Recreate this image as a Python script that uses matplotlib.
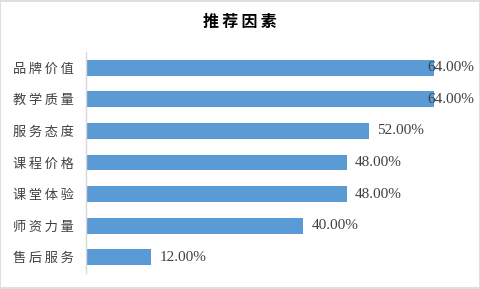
import matplotlib
matplotlib.use("Agg")
import matplotlib.pyplot as plt
from matplotlib.patches import Rectangle

categories = ['品牌价值', '教学质量', '服务态度', '课程价格', '课堂体验', '师资力量', '售后服务']
values = [64, 64, 52, 48, 48, 40, 12]
title = '推荐因素'

THIN = '\u2009'
def spaced(s):
    return THIN.join(s)

W, H = 481, 289
fig = plt.figure(figsize=(W / 100, H / 100), dpi=100)
ax = fig.add_axes([86 / W, 16 / H, (474 - 86) / W, (273 - 52) / H])

ypos = list(range(len(categories)))
ax.barh(ypos, values, height=0.5, color='#5B9BD5')
ax.set_ylim(len(categories) - 0.5, -0.5)
ax.set_xlim(0, 71.4)
ax.set_yticks(ypos)
ax.set_yticklabels([spaced(c) for c in categories],
                   fontfamily=['Noto Sans CJK SC', 'DejaVu Sans'], fontsize=9.5, color='#404040')
ax.tick_params(axis='y', length=0, pad=8.6)
ax.set_xticks([])
for s in ['top', 'right', 'bottom']:
    ax.spines[s].set_visible(False)
ax.spines['left'].set_color('#D9D9D9')
ax.spines['left'].set_linewidth(1)

texts = []
for yi, v in zip(ypos, values):
    t = ax.annotate(f'{v:.2f}%', xy=(v, yi), xytext=(5.8, 0), textcoords='offset points',
                    ha='left', va='center', fontsize=11, color='#404040',
                    fontfamily=['Liberation Serif'])
    texts.append((t, yi, v))

fig.canvas.draw()
renderer = fig.canvas.get_renderer()
axbb = ax.get_window_extent(renderer)
for t, yi, v in texts:
    bb = t.get_window_extent(renderer)
    if bb.x1 > axbb.x1:
        t.xy = (ax.get_xlim()[1], yi)
        t.set_position((0, 0))
        t.set_ha('right')

fig.text(240 / W, 1 - 22 / H, spaced(title), ha='center', va='center', fontsize=11.5,
         fontweight='bold', fontfamily=['Noto Sans CJK SC', 'DejaVu Sans'], color='#000000')

fig.patches.append(Rectangle((0.001, 0.002), 0.997, 0.995, transform=fig.transFigure,
                             fill=False, edgecolor='#D9D9D9', linewidth=1.2))

fig.savefig('out.png', dpi=100)
